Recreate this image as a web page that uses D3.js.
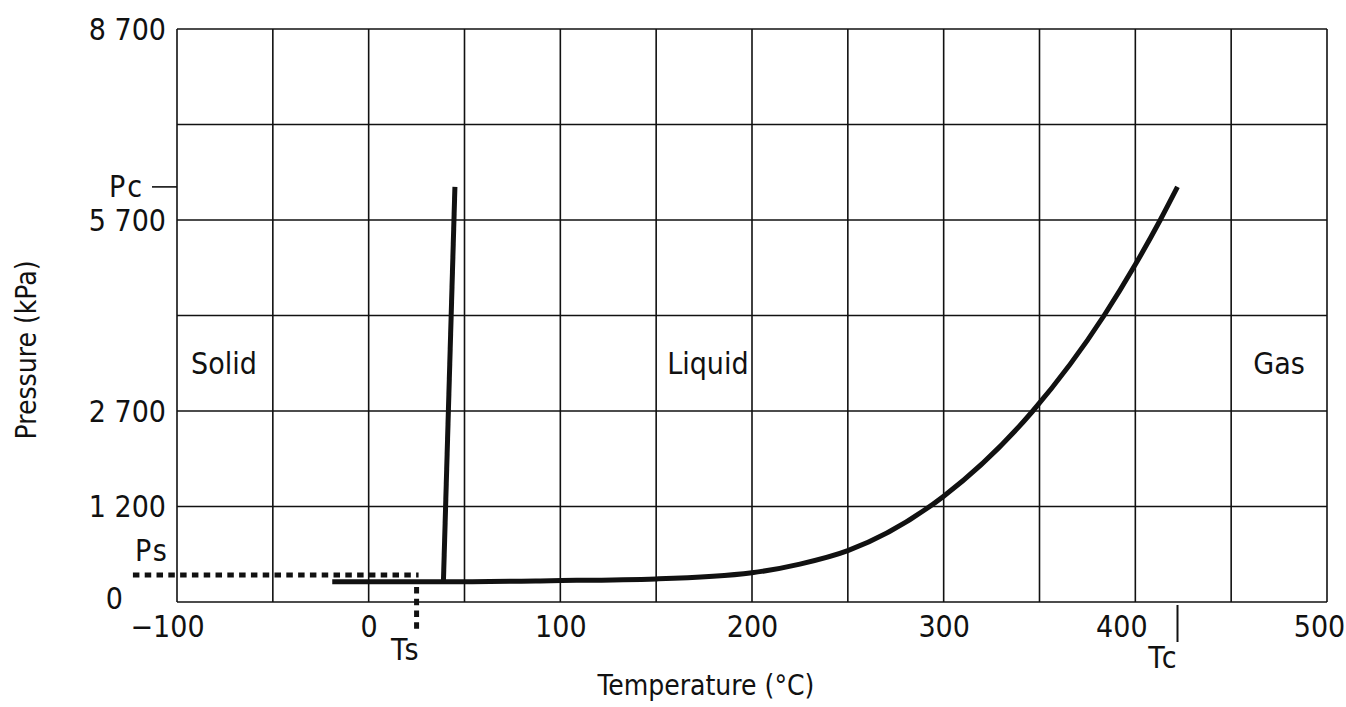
<!DOCTYPE html>
<html>
<head>
<meta charset="utf-8">
<script src="https://cdn.jsdelivr.net/npm/d3@7"></script>
<style>
  html, body { margin: 0; padding: 0; background: #fff; }
  svg { display: block; }
  text { font-family: "DejaVu Sans Condensed", "DejaVu Sans", sans-serif; font-stretch: condensed; fill: #111; }
</style>
</head>
<body>
<svg id="chart" width="1346" height="707"></svg>
<script>
// Temperature axis (°C)
const tempTicks = [-100, 0, 100, 200, 300, 400, 500];
const tempGrid = [-100, -50, 0, 50, 100, 150, 200, 250, 300, 350, 400, 450, 500];

// Pressure axis (kPa) – rows are evenly spaced but not evenly valued
const pressureGrid = [0, 1200, 2700, 4200, 5700, 7200, 8700];
const pressureTicks = [0, 1200, 2700, 5700, 8700];

// Sublimation / vapour-pressure curve up to the critical point
const vaporTemp     = [-19, 39, 95, 150, 200, 225, 250, 300, 346.5, 383.7, 400, 413, 422];
const vaporPressure = [255, 255, 268, 290, 367, 476, 645, 1362, 2700, 4200, 5000, 5700, 6220];

// Fusion (melting) line
const fusionTemp     = [39, 45];
const fusionPressure = [255, 6220];

// Marked points
const criticalT = 422, criticalP = 6220;   // Tc, Pc
const storageT = 25, storageP = 340;       // Ts, Ps

// Phase region names
const phaseNames = ["Solid", "Liquid", "Gas"];

const svg = d3.select("#chart");
const margin = { left: 177, right: 19, top: 29, bottom: 105 };
const W = 1346, H = 707;
const x0 = margin.left, x1 = W - margin.right, y0 = margin.top, y1 = H - margin.bottom;

const x = d3.scaleLinear().domain([-100, 500]).range([x0, x1]);
const rowStep = (y1 - y0) / (pressureGrid.length - 1);
const y = d3.scaleLinear()
  .domain(pressureGrid)
  .range(pressureGrid.map((d, i) => y1 - i * rowStep));

const ink = "#111";

// Grid
const grid = svg.append("g").attr("stroke", ink).attr("stroke-width", 1.6);
grid.selectAll("line.v").data(tempGrid).join("line")
  .attr("class", "v")
  .attr("x1", d => x(d)).attr("x2", d => x(d))
  .attr("y1", y0).attr("y2", y1);
grid.selectAll("line.h").data(pressureGrid).join("line")
  .attr("class", "h")
  .attr("x1", x0).attr("x2", x1)
  .attr("y1", d => y(d)).attr("y2", d => y(d));

// X axis labels
const fmtT = d => d < 0 ? "\u2212" + Math.abs(d) : String(d);
const xAxis = svg.append("g")
  .attr("transform", `translate(0,${y1})`)
  .call(d3.axisBottom(x).tickValues(tempTicks).tickSize(0).tickPadding(14).tickFormat(fmtT));
xAxis.select(".domain").remove();
xAxis.selectAll("text")
  .attr("font-size", 30)
  .attr("font-family", null)
  .attr("fill", ink)
  .attr("dx", d => d === -100 ? -10 : d === 400 ? -14 : d === 500 ? -8 : 0);

// Y axis labels
const fmtP = d => d3.format(",")(d).replace(/,/g, " ");
const yAxis = svg.append("g")
  .attr("transform", `translate(${x0},0)`)
  .call(d3.axisLeft(y).tickValues(pressureTicks).tickSize(0).tickPadding(11).tickFormat(fmtP));
yAxis.select(".domain").remove();
yAxis.selectAll("text")
  .attr("font-size", 30)
  .attr("font-family", null)
  .attr("fill", ink)
  .attr("dx", d => d === 0 ? -43 : 0)
  .attr("dy", d => d === 0 ? "0.2em" : "0.34em");

// Axis titles
svg.append("text")
  .attr("x", 706).attr("y", 695)
  .attr("text-anchor", "middle")
  .attr("font-size", 28)
  .text("Temperature (°C)");
svg.append("text")
  .attr("transform", "translate(36,350) rotate(-90)")
  .attr("text-anchor", "middle")
  .attr("font-size", 28)
  .text("Pressure (kPa)");

// Phase region labels
const phaseAt = [-75.5, 177, 475];
svg.append("g").selectAll("text").data(phaseNames).join("text")
  .attr("x", (d, i) => x(phaseAt[i]))
  .attr("y", y(3450))
  .attr("dy", "0.35em")
  .attr("text-anchor", "middle")
  .attr("font-size", 30)
  .text(d => d);

// Ps / Ts dotted guides
const dotted = svg.append("g")
  .attr("stroke", ink).attr("stroke-width", 5)
  .attr("stroke-dasharray", "6.5,5.3").attr("fill", "none");
dotted.append("line")
  .attr("x1", x(-123)).attr("x2", x(storageT) + 2)
  .attr("y1", y(storageP)).attr("y2", y(storageP));
dotted.append("line")
  .attr("x1", x(storageT)).attr("x2", x(storageT))
  .attr("y1", y(storageP) + 12).attr("y2", y1 + 27);

// Curves
svg.append("path")
  .datum(vaporTemp.map((t, i) => [t, vaporPressure[i]]))
  .attr("d", d3.line().x(d => x(d[0])).y(d => y(d[1])).curve(d3.curveMonotoneX))
  .attr("fill", "none").attr("stroke", ink).attr("stroke-width", 5);
svg.append("path")
  .datum(fusionTemp.map((t, i) => [t, fusionPressure[i]]))
  .attr("d", d3.line().x(d => x(d[0])).y(d => y(d[1])))
  .attr("fill", "none").attr("stroke", ink).attr("stroke-width", 5);

// Critical point markers
svg.append("line")
  .attr("x1", x0 - 25).attr("x2", x0)
  .attr("y1", y(criticalP)).attr("y2", y(criticalP))
  .attr("stroke", ink).attr("stroke-width", 1.6);
svg.append("line")
  .attr("x1", x(criticalT)).attr("x2", x(criticalT))
  .attr("y1", y1 + 3).attr("y2", y1 + 40)
  .attr("stroke", ink).attr("stroke-width", 2);

// Point labels
const lbl = svg.append("g").attr("font-size", 30).attr("letter-spacing", 2);
lbl.append("text").attr("x", x0 - 33).attr("y", y(criticalP) + 10)
  .attr("text-anchor", "end").text("Pc");
lbl.append("text").attr("x", 135).attr("y", 561).text("Ps");
lbl.append("text").attr("x", x(storageT) + 4).attr("y", 660)
  .attr("text-anchor", "end").text("Ts");
lbl.append("text").attr("x", x(criticalT) + 1).attr("y", 668)
  .attr("text-anchor", "end").text("Tc");
</script>
</body>
</html>
